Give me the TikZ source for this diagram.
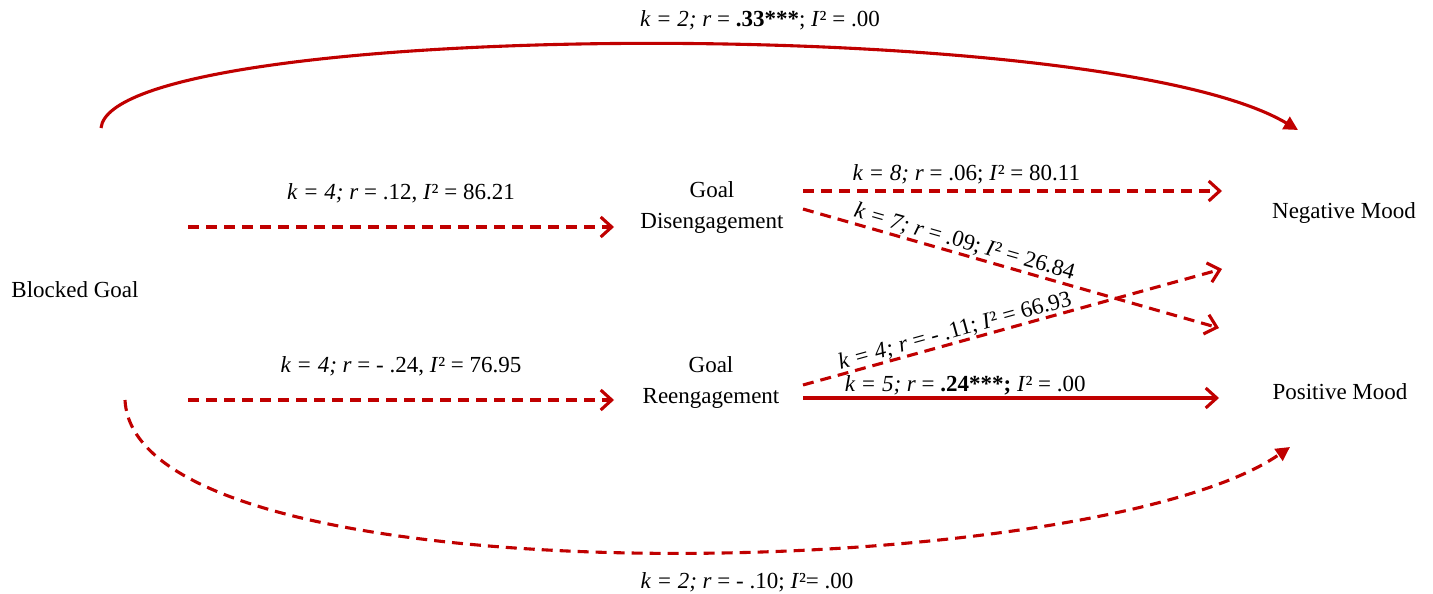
\documentclass[tikz,border=0pt]{standalone}
\usepackage{fontspec}
\setmainfont{Liberation Serif}
\usetikzlibrary{arrows.meta}
\definecolor{pathred}{HTML}{C00000}
\tikzset{
  lbl/.style={font=\fontsize{23}{27}\selectfont, inner sep=0pt},
  var/.style={font=\fontsize{23}{31}\selectfont, align=center, inner sep=0pt},
  conn/.style={draw=pathred, line width=3.1pt, -{Straight Barb[length=11pt,width=20pt,line width=3.1pt]}},
  curv/.style={draw=pathred, line width=3.1pt, -{Triangle[length=14pt,width=14pt]}},
  dsh/.style={dash pattern=on 11pt off 7pt}
}
\newcommand{\Isq}{\textit{I}²}
\begin{document}
\begin{tikzpicture}[x=1pt,y=-1pt]
\useasboundingbox (0,0) rectangle (1433,594);
% variables
\node[var] (BG) at (75,290) {Blocked Goal};
\node[var] (GD) at (712,208) {Goal\\Disengagement};
\node[var] (GR) at (711,382) {Goal\\Reengagement};
\node[var] (NM) at (1344,213) {Negative Mood};
\node[var] (PM) at (1340,392) {Positive Mood};
% endpoints
\coordinate (a1s) at (188,227); \coordinate (a1e) at (614,227);
\coordinate (a2s) at (188,400); \coordinate (a2e) at (614,400);
\coordinate (gdo1) at (803,191); \coordinate (nmi1) at (1222,191);
\coordinate (gdo2) at (803,209); \coordinate (pmi2) at (1219,328);
\coordinate (gro1) at (803,385); \coordinate (nmi2) at (1222,269);
\coordinate (gro2) at (803,398); \coordinate (pmi1) at (1219,398);
\coordinate (bgt) at (101,128); \coordinate (nmt) at (1298,130);
\coordinate (bgb) at (125,400); \coordinate (pmb) at (1290,447);
% connectors
\draw[conn,dsh] (a1s) -- node[lbl,above=22pt] {\textit{k = 4; r} = .12, \Isq{} = 86.21} (a1e);
\draw[conn,dsh] (a2s) -- node[lbl,above=22pt] {\textit{k = 4; r} = - .24, \Isq{} = 76.95} (a2e);
\draw[conn,dsh] (gdo1) -- node[lbl,above=5pt,pos=0.39] {\textit{k = 8; r} = .06; \Isq{} = 80.11} (nmi1);
\draw[conn,dsh] (gdo2) -- node[lbl,sloped,above=1pt,pos=0.38] {\textit{k = 7; r} = .09; \Isq{} = 26.84} (pmi2);
\draw[conn,dsh] (gro1) -- node[lbl,sloped,above=0pt,pos=0.37] {\textit{k = 4; r} = - .11; \Isq{} = 66.93} (nmi2);
\draw[conn] (gro2) -- node[lbl,above=1pt,pos=0.39] {\textit{k = 5; r} = \textbf{.24***;} \Isq{} = .00} (pmi1);
\draw[curv] (bgt) .. controls (112,20) and (1100,12) .. (nmt);
\draw[curv,dsh] (bgb) .. controls (135,605) and (1090,585) .. (pmb);
\node[lbl] (toplbl) at (760,20) {\textit{k = 2; r} = \textbf{.33***}; \Isq{} = .00};
\node[lbl] (botlbl) at (747,582) {\textit{k = 2; r} = - .10; \Isq{}= .00};
\end{tikzpicture}
\end{document}
